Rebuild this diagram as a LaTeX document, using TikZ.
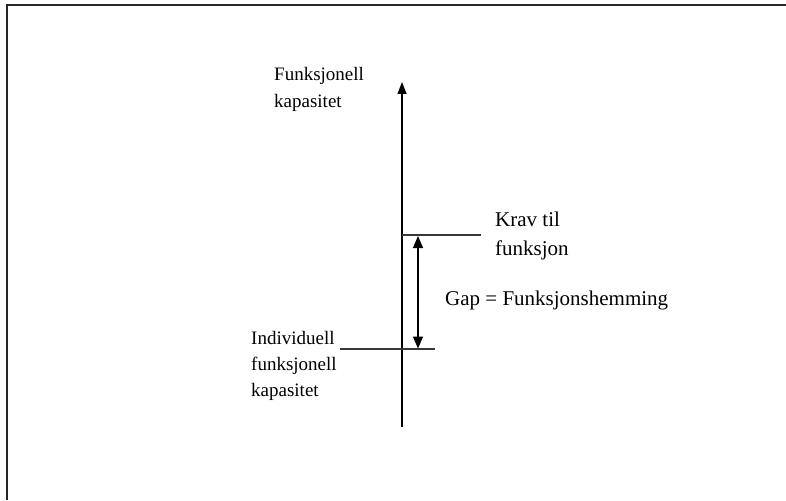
\documentclass[tikz,border=0pt]{standalone}
\usepackage{fontspec}
\setmainfont{Liberation Serif}
\usetikzlibrary{arrows.meta}
\tikzset{
  lbl/.style={anchor=base west, inner sep=0pt, align=left, font=\fontsize{19}{26}\selectfont},
  lblbig/.style={anchor=base west, inner sep=0pt, align=left, font=\fontsize{21}{29}\selectfont},
  axisline/.style={line width=1.3pt, black},
  levelline/.style={line width=1.3pt, black!78},
  frameline/.style={line width=1.6pt, black!85},
}
\begin{document}
\begin{tikzpicture}[x=1pt,y=-1pt]
\useasboundingbox (0,0) rectangle (786,500);
% frame
\coordinate (fbl) at (7,500);
\coordinate (ftl) at (7,5);
\coordinate (ftr) at (786,5);
\draw[frameline] (fbl) -- (ftl) -- (ftr);
% main axis
\coordinate (axb) at (402,427);
\coordinate (axt) at (402,82);
\draw[axisline,-{Triangle[length=12pt,width=9pt]}] (axb) -- (axt);
% levels
\coordinate (kl) at (402,235);
\coordinate (kr) at (481,235);
\draw[levelline] (kl) -- (kr);
\coordinate (il) at (340,349);
\coordinate (ir) at (435,349);
\draw[levelline] (il) -- (ir);
% gap arrow
\coordinate (gt) at (418,236);
\coordinate (gb) at (418,348.5);
\draw[axisline,{Triangle[length=12pt,width=10pt]}-{Triangle[length=12pt,width=10pt]}] (gt) -- (gb);
% labels (base anchor = baseline of last line)
\node[lbl] (fk) at (274,107) {Funksjonell\\kapasitet};
\node[lblbig] (krav) at (495,255) {Krav til\\funksjon};
\node[lblbig] (gap) at (445,305) {Gap = Funksjonshemming};
\node[lbl] (ifk) at (251,396) {Individuell\\funksjonell\\kapasitet};
\end{tikzpicture}
\end{document}
